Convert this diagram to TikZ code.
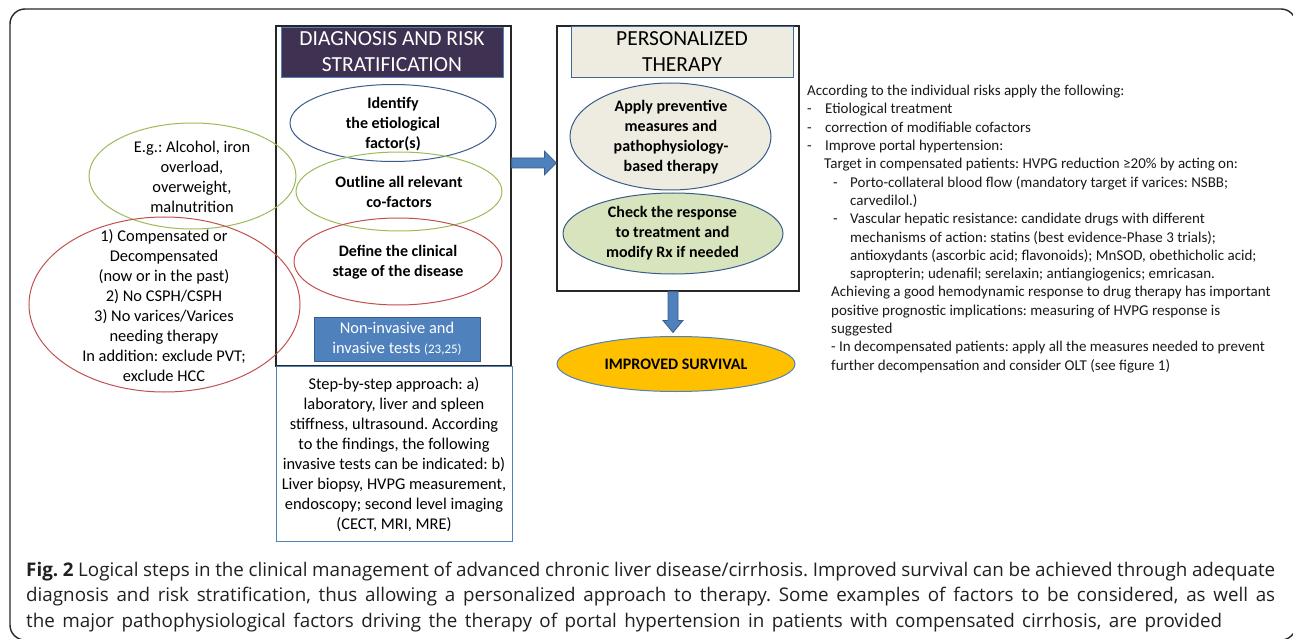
\documentclass[tikz,border=0pt]{standalone}
\usepackage{fontspec}
\setmainfont{Carlito}
\newfontfamily\capfont{Open Sans}
\usetikzlibrary{shapes.geometric,calc}
\definecolor{hdrdark}{HTML}{3F3151}
\definecolor{ofblue}{HTML}{4F81BD}
\definecolor{ofblueD}{HTML}{385D8A}
\definecolor{ofgreen}{HTML}{9BBB59}
\definecolor{ofred}{HTML}{C0504D}
\definecolor{beige}{HTML}{EEECE1}
\definecolor{lgreen}{HTML}{D7E4BD}
\definecolor{gold}{HTML}{FFC000}
\definecolor{captext}{HTML}{231F20}
\frenchspacing
\tikzset{
  frame/.style={draw=black!85, line width=1.4pt, rounded corners=15pt},
  bigbox/.style={rectangle, draw=black!85, line width=1.2pt, inner sep=0},
  ell/.style={ellipse, draw, line width=1pt, inner sep=0},
  etxt/.style={align=center, inner sep=0, font=\fontsize{16}{20}\selectfont\bfseries},
  ltxt/.style={align=center, inner sep=0, font=\fontsize{16.4}{20}\selectfont},
  hdrtxt/.style={align=center, inner sep=0, font=\fontsize{21.5}{26}\selectfont},
  barrow/.style={fill=ofblue, draw=ofblueD, line width=0.8pt},
  rtxt/.style={align=left, inner sep=0, anchor=north west, font=\fontsize{15}{18.3}\selectfont, text=black!90},
  captxt/.style={inner sep=0, anchor=base west, font=\capfont\fontsize{18.8}{25.5}\selectfont, text=captext}
}
\begin{document}
\begin{tikzpicture}[x=1pt,y=-1pt]
\useasboundingbox (0,0) rectangle (1293,639);
\draw[frame] (10,9) rectangle (1296,640);

% ---- Diagnosis column
\node[bigbox, minimum width=235, minimum height=340] (diag) at (393.5,196) {};
\node[rectangle, fill=hdrdark, draw=ofblue, line width=0.8pt, minimum width=222, minimum height=50, inner sep=0] (diaghdr) at (392,52) {};
\node[hdrtxt, text=white] (diaghdrt) at (diaghdr.center) {DIAGNOSIS AND RISK\\STRATIFICATION};

\node[ell, draw=ofblueD, minimum width=206, minimum height=77] (e1) at (393,123) {};
\node[etxt] (e1t) at (393,124) {Identify\\the etiological\\factor(s)};
\node[ell, draw=ofgreen, minimum width=206, minimum height=79] (e2) at (399,191.5) {};
\node[etxt] (e2t) at (399,192) {Outline all relevant\\co-factors};
\node[ell, draw=ofred, minimum width=208, minimum height=87] (e3) at (398,261.5) {};
\node[etxt] (e3t) at (398,262) {Define the clinical\\stage of the disease};

\node[ell, draw=ofgreen, minimum width=207, minimum height=106] (eg) at (192.5,176) {};
\node[ltxt] (egt) at (192,176.5) {E.g.: Alcohol, iron\\overload,\\overweight,\\malnutrition};
\node[ell, draw=ofred, minimum width=271, minimum height=175] (er) at (164.5,304.5) {};
\node[ltxt] (ert) at (164,305.5) {1) Compensated or\\Decompensated\\(now or in the past)\\2) No CSPH/CSPH\\3) No varices/Varices\\needing therapy\\In addition: exclude PVT;\\exclude HCC};

\node[rectangle, fill=ofblue, draw=ofblueD, line width=0.8pt, minimum width=166, minimum height=44, inner sep=0] (tests) at (397,339) {};
\node[ltxt, text=white] (testst) at (tests.center) {Non-invasive and\\invasive tests {\fontsize{13}{20}\selectfont(23,25)}};

\node[rectangle, draw=ofblue, line width=1pt, fill=white, minimum width=236, minimum height=175, inner sep=0] (step) at (394,453.5) {};
\node[ltxt] (stept) at (394,454.5) {Step-by-step approach: a)\\laboratory, liver and spleen\\stiffness, ultrasound. According\\to the findings, the following\\invasive tests can be indicated: b)\\Liver biopsy, HVPG measurement,\\endoscopy; second level imaging\\(CECT, MRI, MRE)};

% ---- Personalized column
\node[bigbox, minimum width=242, minimum height=265] (pers) at (678,158.5) {};
\node[rectangle, fill=beige, draw=ofblue!80!black, line width=0.8pt, minimum width=222, minimum height=51, inner sep=0] (pershdr) at (682,51.5) {};
\node[hdrtxt] (pershdrt) at (682,52) {PERSONALIZED\\THERAPY};
\node[ell, draw=ofblueD, fill=beige, minimum width=201, minimum height=107] (p1) at (670.5,136.5) {};
\node[etxt] (p1t) at (671,137.5) {Apply preventive\\measures and\\pathophysiology-\\based therapy};
\node[ell, draw=ofblueD, fill=lgreen, minimum width=220, minimum height=81] (p2) at (673,233.5) {};
\node[etxt] (p2t) at (672.5,233.5) {Check the response\\to treatment and\\modify Rx if needed};

\node[ell, draw=ofblue, fill=gold, minimum width=238, minimum height=55] (imp) at (676,364) {};
\node[etxt] (impt) at (imp.center) {IMPROVED SURVIVAL};

% ---- block arrows
\coordinate (ra) at ([yshift=33pt]diag.east);
\coordinate (rb) at (ra -| pers.west);
\draw[barrow] ($(ra)+(0,-5)$) -- ($(rb)+(-12,-5)$) -- ($(rb)+(-12,-12)$) -- (rb)
  -- ($(rb)+(-12,12)$) -- ($(rb)+(-12,5)$) -- ($(ra)+(0,5)$) -- cycle;
\coordinate (da) at ([xshift=-5pt]pers.south);
\coordinate (db0) at (da |- imp.north);
\coordinate (db) at ([yshift=3.5pt]db0);
\draw[barrow] ($(da)+(-5,0)$) -- ($(db)+(-5,-12)$) -- ($(db)+(-10,-12)$) -- (db)
  -- ($(db)+(10,-12)$) -- ($(db)+(5,-12)$) -- ($(da)+(5,0)$) -- cycle;

% ---- right text
\node[rtxt] (rtext) at (807,85) {According to the individual risks apply the following:\\
\makebox[18pt][l]{-}Etiological treatment\\
\makebox[18pt][l]{-}correction of modifiable cofactors\\
\makebox[18pt][l]{-}Improve portal hypertension:\\
\hspace*{17pt}Target in compensated patients: HVPG reduction ≥20\% by acting on:\\
\hspace*{26pt}\makebox[17pt][l]{-}Porto-collateral blood flow (mandatory target if varices: NSBB;\\
\hspace*{43pt}carvedilol.)\\
\hspace*{26pt}\makebox[17pt][l]{-}Vascular hepatic resistance: candidate drugs with different\\
\hspace*{43pt}mechanisms of action: statins (best evidence-Phase 3 trials);\\
\hspace*{43pt}antioxydants (ascorbic acid; flavonoids); MnSOD, obethicholic acid;\\
\hspace*{43pt}sapropterin; udenafil; serelaxin; antiangiogenics; emricasan.\\
\hspace*{24pt}Achieving a good hemodynamic response to drug therapy has important\\
\hspace*{24pt}positive prognostic implications: measuring of HVPG response is\\
\hspace*{24pt}suggested\\
\hspace*{24pt}- In decompensated patients: apply all the measures needed to prevent\\
\hspace*{24pt}further decompensation and consider OLT (see figure 1)};

% ---- caption
\node[captxt] (cap1) at (26,576) {\makebox[1249pt][s]{\textbf{Fig. 2} Logical steps in the clinical management of advanced chronic liver disease/cirrhosis. Improved survival can be achieved through adequate}};
\node[captxt] (cap2) at (26,601.5) {\makebox[1249pt][s]{diagnosis and risk stratification, thus allowing a personalized approach to therapy. Some examples of factors to be considered, as well as}};
\node[captxt] (cap3) at (26,627) {\makebox[1196pt][s]{the major pathophysiological factors driving the therapy of portal hypertension in patients with compensated cirrhosis, are provided}};
\end{tikzpicture}
\end{document}
